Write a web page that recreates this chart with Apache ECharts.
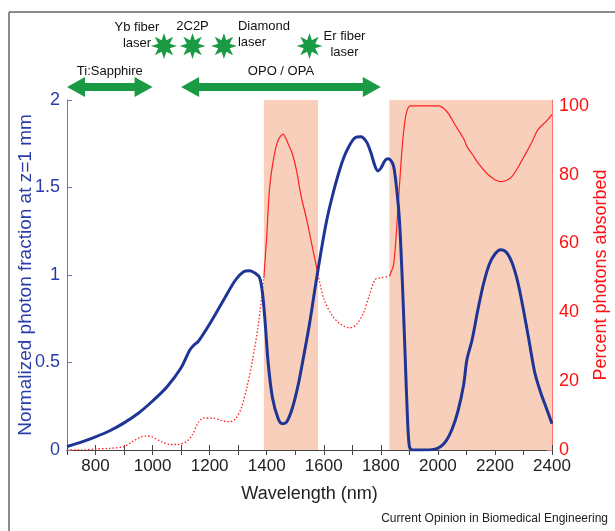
<!DOCTYPE html>
<html>
<head>
<meta charset="utf-8">
<script src="https://cdn.jsdelivr.net/npm/echarts@6/dist/echarts.min.js"></script>
<style>
  html, body { margin: 0; padding: 0; background: #fff; }
  #chart { width: 615px; height: 531px; }
</style>
</head>
<body>
<div id="chart"></div>
<script>
// wavelength (nm), normalized photon fraction at z=1 mm
const blueFraction = [
  [700, 0.02], [750, 0.045], [800, 0.075], [850, 0.11], [900, 0.155], [950, 0.21],
  [1000, 0.28], [1050, 0.36], [1100, 0.47], [1130, 0.57], [1145, 0.60], [1160, 0.62],
  [1200, 0.72], [1250, 0.86], [1290, 0.97], [1320, 1.02], [1340, 1.025], [1360, 1.01],
  [1375, 0.985], [1385, 0.9], [1395, 0.72], [1405, 0.50], [1420, 0.30], [1440, 0.18],
  [1455, 0.15], [1470, 0.16], [1490, 0.24], [1510, 0.37], [1530, 0.54], [1550, 0.72],
  [1570, 0.93], [1590, 1.13], [1610, 1.31], [1630, 1.45], [1650, 1.57], [1670, 1.67],
  [1690, 1.74], [1710, 1.785], [1730, 1.79], [1750, 1.76], [1765, 1.70], [1780, 1.62],
  [1790, 1.595], [1800, 1.61], [1815, 1.655], [1825, 1.665], [1835, 1.655], [1845, 1.62],
  [1855, 1.50], [1865, 1.32], [1875, 0.98], [1885, 0.55], [1893, 0.2], [1900, 0.02],
  [1910, 0], [1950, 0], [1990, 0.005], [2010, 0.02], [2030, 0.055], [2050, 0.12],
  [2070, 0.22], [2090, 0.37], [2100, 0.50], [2105, 0.54], [2120, 0.63], [2140, 0.8],
  [2160, 0.95], [2180, 1.06], [2200, 1.12], [2220, 1.145], [2240, 1.13], [2260, 1.07],
  [2280, 0.96], [2300, 0.80], [2320, 0.62], [2340, 0.44], [2360, 0.33], [2380, 0.24],
  [2400, 0.15]
];

// wavelength (nm), percent photons absorbed
const redAbsorbed = [
  [700, 0], [750, 0], [800, 0.3], [850, 0.5], [900, 1], [930, 2.5], [960, 3.8],
  [980, 4.1], [1000, 3.7], [1030, 2.5], [1060, 1.6], [1090, 1.6], [1120, 2.5],
  [1140, 4.5], [1160, 8], [1180, 9.3], [1210, 9.3], [1240, 8.6], [1270, 8.2],
  [1290, 9], [1310, 12], [1330, 18], [1350, 26], [1370, 36], [1390, 50], [1400, 62],
  [1410, 76], [1425, 85], [1440, 90], [1457, 91.8], [1475, 89], [1490, 86], [1505, 81],
  [1520, 74], [1540, 67], [1560, 59], [1580, 51], [1600, 44], [1630, 39], [1660, 36.5],
  [1690, 35.5], [1715, 36.5], [1740, 40], [1760, 45], [1780, 49.5], [1800, 50],
  [1830, 50.5], [1845, 54], [1860, 70], [1872, 85], [1882, 94], [1892, 98.7],
  [1905, 100], [1950, 100], [2000, 100], [2030, 98.5], [2060, 94.5], [2090, 90.5],
  [2103, 88], [2120, 86], [2140, 83.5], [2170, 80.5], [2200, 78.5], [2220, 78],
  [2240, 78.3], [2260, 79.5], [2280, 82], [2300, 85], [2330, 89.5], [2350, 93],
  [2380, 95.5], [2400, 97.5]
];

// optical windows (nm)
const shadedBands = [[1390, 1580], [1830, 2400]];

// laser sources (nm)
const lasers = [
  { name: 'Yb fiber\nlaser', wl: 1040 },
  { name: '2C2P', wl: 1140 },
  { name: 'Diamond\nlaser', wl: 1250 },
  { name: 'Er fiber\nlaser', wl: 1550 }
];
const tunableRanges = [
  { name: 'Ti:Sapphire', from: 700, to: 1000 },
  { name: 'OPO / OPA', from: 1100, to: 1800 }
];

const FONT = 'Liberation Sans, Arial, sans-serif';
const BLUE = '#1f3596';
const RED = '#ff2020';
const GREEN = '#1b9a44';

function inBand(x) {
  return shadedBands.some(b => x >= b[0] && x <= b[1]);
}

// split the red curve into solid (inside the windows) and dotted (outside) pieces
function splitRed(data) {
  const pieces = [];
  let cur = null;
  for (let i = 0; i < data.length; i++) {
    const p = data[i];
    if (i === data.length - 1) { cur.pts.push(p); break; }
    const mid = (p[0] + data[i + 1][0]) / 2;
    const solid = inBand(mid);
    if (!cur || cur.solid !== solid) {
      if (cur) cur.pts.push(p);
      cur = { solid: solid, pts: [] };
      pieces.push(cur);
    }
    cur.pts.push(p);
  }
  return pieces;
}

const chart = echarts.init(document.getElementById('chart'));

const series = [
  {
    type: 'line',
    data: [],
    z: 1,
    silent: true,
    markArea: {
      silent: true,
      itemStyle: { color: '#f8cfbb', opacity: 1 },
      data: shadedBands.map(b => [{ xAxis: b[0] }, { xAxis: b[1] }])
    }
  }
];

splitRed(redAbsorbed).forEach(p => {
  series.push({
    type: 'line',
    yAxisIndex: 1,
    data: p.pts,
    showSymbol: false,
    smooth: 0.3,
    z: 3,
    lineStyle: p.solid
      ? { color: RED, width: 1.2 }
      : { color: RED, width: 1.3, type: [1.5, 2] }
  });
});

series.push({
  type: 'line',
  yAxisIndex: 0,
  data: blueFraction,
  showSymbol: false,
  smooth: 0.3,
  z: 4,
  lineStyle: { color: BLUE, width: 3 }
});

chart.setOption({
  animation: false,
  grid: { left: 67, right: 63, top: 100, bottom: 81, outerBoundsMode: 'none', containLabel: false },
  xAxis: [
    {
      type: 'value', min: 700, max: 2400, interval: 100,
      name: 'Wavelength (nm)', nameLocation: 'middle', nameGap: 35,
      nameTextStyle: { fontFamily: FONT, fontSize: 18, color: '#222' },
      axisLine: { lineStyle: { color: '#444', width: 1 } },
      axisTick: { inside: true, length: 5, lineStyle: { color: '#444' } },
      axisLabel: {
        fontFamily: FONT, fontSize: 17, color: '#222', margin: 8,
        formatter: v => (v % 200 === 0 ? String(v) : '')
      },
      splitLine: { show: false }
    },
    {
      type: 'value', min: 700, max: 2400, interval: 100, position: 'top',
      axisLine: { lineStyle: { color: '#444', width: 1 } },
      axisTick: { inside: true, length: 5, lineStyle: { color: '#444' } },
      axisLabel: { show: false },
      splitLine: { show: false }
    }
  ],
  yAxis: [
    {
      type: 'value', min: 0, max: 2, interval: 0.5,
      name: 'Normalized photon fraction at z=1 mm', nameLocation: 'middle',
      nameGap: 32, nameMoveOverlap: false,
      nameTextStyle: { fontFamily: FONT, fontSize: 19, color: '#2a3ca8' },
      axisLine: { show: true, lineStyle: { color: '#6576c4' } },
      axisTick: { inside: true, length: 5, lineStyle: { color: '#6576c4' } },
      axisLabel: { fontFamily: FONT, fontSize: 18, color: '#2a3ca8', margin: 7 },
      splitLine: { show: false }
    },
    {
      type: 'value', min: 0, max: 101.7, interval: 20, position: 'right',
      name: 'Percent photons absorbed', nameLocation: 'middle', nameRotate: 90,
      nameGap: 40, nameMoveOverlap: false,
      nameTextStyle: { fontFamily: FONT, fontSize: 18, color: '#ff1010' },
      axisLine: { show: true, lineStyle: { color: '#ff7070' } },
      axisTick: { inside: true, length: 5, lineStyle: { color: '#ff7070' } },
      axisLabel: { fontFamily: FONT, fontSize: 18, color: '#ff1010', margin: 7, showMaxLabel: false },
      splitLine: { show: false }
    }
  ],
  series: series
});

// annotations above the plot, placed from wavelengths
function xOf(wl) { return chart.convertToPixel({ xAxisIndex: 0 }, wl); }

function starPoints(cx, cy, r1, r2, n) {
  const pts = [];
  for (let i = 0; i < n * 2; i++) {
    const a = -Math.PI / 2 + i * Math.PI / n;
    const r = i % 2 === 0 ? r1 : r2;
    pts.push([cx + r * Math.cos(a), cy + r * Math.sin(a)]);
  }
  return pts;
}

function arrowPoints(x1, x2, y) {
  const hl = 18, hh = 10, sh = 4;
  return [
    [x1, y], [x1 + hl, y - hh], [x1 + hl, y - sh], [x2 - hl, y - sh], [x2 - hl, y - hh],
    [x2, y], [x2 - hl, y + hh], [x2 - hl, y + sh], [x1 + hl, y + sh], [x1 + hl, y + hh]
  ];
}

const graphics = [
  { type: 'line', shape: { x1: 9, y1: 12, x2: 615, y2: 12 }, style: { stroke: '#666', lineWidth: 1.5 } },
  { type: 'line', shape: { x1: 9, y1: 12, x2: 9, y2: 531 }, style: { stroke: '#666', lineWidth: 1.5 } },
  {
    type: 'text', right: 7, top: 513,
    style: { text: 'Current Opinion in Biomedical Engineering', font: '12px ' + FONT, fill: '#222' }
  }
];

// label placement per laser: [dx, top, align]
const laserLabelPos = [[-27, 19, 'center'], [0, 18, 'center'], [14, 18, 'left'], [35, 28, 'center']];
const starY = 46;
lasers.forEach((l, i) => {
  const cx = xOf(l.wl);
  graphics.push({
    type: 'polygon', z: 10,
    shape: { points: starPoints(cx, starY, 13, 6.2, 8) },
    style: { fill: GREEN }
  });
  const pos = laserLabelPos[i];
  graphics.push({
    type: 'text', z: 11, x: cx + pos[0], y: pos[1],
    style: {
      text: l.name, font: '13px ' + FONT, fill: '#111', align: pos[2],
      verticalAlign: 'top', lineHeight: 16
    }
  });
});

tunableRanges.forEach(r => {
  const x1 = xOf(r.from), x2 = xOf(r.to);
  graphics.push({
    type: 'polygon', z: 10,
    shape: { points: arrowPoints(x1, x2, 87) },
    style: { fill: GREEN }
  });
  graphics.push({
    type: 'text', z: 11, x: (x1 + x2) / 2, y: 71,
    style: { text: r.name, font: '13px ' + FONT, fill: '#111', align: 'center', verticalAlign: 'middle' }
  });
});

chart.setOption({ graphic: graphics });
</script>
</body>
</html>
